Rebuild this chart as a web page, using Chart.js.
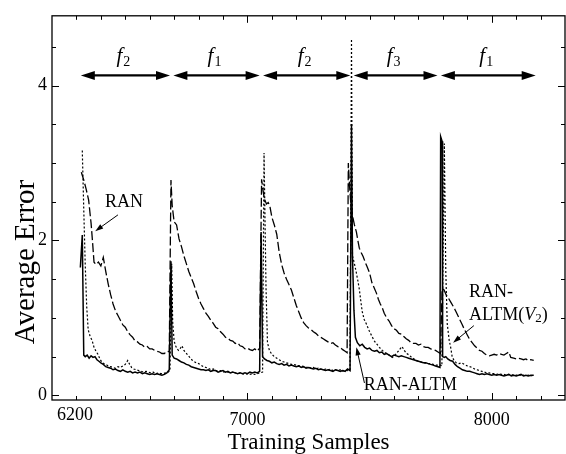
<!DOCTYPE html>
<html>
<head>
<meta charset="utf-8">
<script src="https://cdn.jsdelivr.net/npm/chart.js@4.4.1/dist/chart.umd.min.js"></script>
<style>
  html, body { margin: 0; padding: 0; background: #fff; }
</style>
</head>
<body>
<canvas id="chart" width="566" height="454"></canvas>
<script>
// ---------------- Datos ----------------
const xTickValues = [7000, 8000];
const yTickValues = [0, 2, 4];

// RAN (linea a trazos)
const ranX = [
  6320,6330,6340,6350,6360,6366,6372,6380,6390,6400,6410,6420,6430,6440,6450,6460,6470,6480,6490,6500,6510,6520,6530,6540,6550,6560,6570,6580,6590,6600,6610,6620,6630,6640,6650,6660,6670,6680,
  6687,6692,6700,6710,6720,6730,6740,6750,6760,6770,6780,6790,6800,6810,6820,6830,6840,6850,6860,6870,6880,6890,6900,6910,6920,6930,6940,6950,6960,6970,6980,6990,7000,7010,7020,7030,7040,7050,
  7058,7065,7070,7078,7085,7092,7100,7110,7120,7130,7140,7150,7160,7170,7180,7190,7200,7210,7220,7230,7240,7250,7260,7270,7280,7290,7300,7310,7320,7330,7340,7350,7360,7370,7380,7390,7400,7408,
  7413,7418,7424,7430,7438,7446,7452,7458,7466,7474,7482,7490,7500,7510,7520,7528,7536,7544,7552,7560,7570,7580,7590,7600,7610,7620,7630,7640,7650,7660,7670,7680,7690,7700,7710,7720,7730,7740,7750,7760,7770,7780,7790,
  7797,7805,7813,7822,7833,7844,7854,7866,7878,7890,7900,7910,7920,7930,7940,7950,7960,7970,7980,7990,8000,8010,8020,8030,8040,8050,8060,8070,8078,8090,8100,8110,8120,8130,8140,8150,8160,8172
];
const ranY = [
  2.88,2.78,2.66,2.52,2.22,1.98,1.72,1.69,1.72,1.67,1.78,1.60,1.44,1.30,1.18,1.09,1.03,0.97,0.91,0.88,0.82,0.78,0.75,0.70,0.69,0.66,0.65,0.62,0.63,0.60,0.60,0.58,0.57,0.56,0.54,0.54,0.57,0.56,
  2.78,2.45,2.24,2.20,2.02,1.92,1.80,1.70,1.60,1.52,1.44,1.34,1.25,1.18,1.12,1.06,1.02,0.97,0.93,0.88,0.86,0.82,0.79,0.75,0.74,0.71,0.70,0.67,0.68,0.64,0.63,0.60,0.61,0.59,0.58,0.60,0.57,0.61,
  2.79,2.62,2.53,2.47,2.49,2.44,2.30,2.20,2.08,1.85,1.69,1.58,1.50,1.43,1.36,1.26,1.16,1.08,1.00,0.94,0.90,0.87,0.85,0.82,0.80,0.77,0.75,0.73,0.71,0.69,0.67,0.68,0.65,0.63,0.62,0.59,0.57,0.55,
  3.00,2.70,2.45,2.32,2.20,2.11,2.00,1.90,1.84,1.79,1.72,1.66,1.58,1.45,1.38,1.32,1.24,1.18,1.13,1.06,1.00,0.96,0.90,0.86,0.84,0.80,0.79,0.76,0.73,0.71,0.68,0.67,0.67,0.65,0.66,0.63,0.62,0.62,0.60,0.59,0.58,0.56,0.54,
  1.38,1.36,1.30,1.26,1.20,1.14,1.08,1.00,0.92,0.84,0.78,0.72,0.68,0.64,0.61,0.58,0.57,0.54,0.52,0.51,0.52,0.53,0.52,0.54,0.53,0.52,0.54,0.56,0.49,0.48,0.47,0.48,0.47,0.46,0.47,0.45,0.46,0.45
];

// RAN-ALTM (linea continua)
const altmX = [
  6316,6324,6330,6336,6344,6352,6360,6368,6376,6384,6392,6400,6410,6420,6430,6440,6450,6460,6470,6480,6490,6500,6510,6520,6530,6540,6550,6560,6570,6580,6590,6600,6610,6620,6630,6640,6650,6660,6670,6680,
  6687,6692,6700,6710,6720,6730,6740,6750,6760,6770,6780,6790,6800,6810,6820,6830,6840,6850,6860,6870,6880,6890,6900,6910,6920,6930,6940,6950,6960,6970,6980,6990,7000,7010,7020,7030,7040,7050,
  7056,7062,7070,7080,7090,7100,7110,7120,7130,7140,7150,7160,7170,7180,7190,7200,7210,7220,7230,7240,7250,7260,7270,7280,7290,7300,7310,7320,7330,7340,7350,7360,7370,7380,7390,7400,7410,7420,
  7426,7430,7436,7442,7450,7460,7470,7480,7490,7500,7510,7520,7530,7540,7550,7560,7570,7580,7590,7600,7610,7620,7630,7640,7650,7660,7670,7680,7690,7700,7710,7720,7730,7740,7750,7760,7770,7780,7788,
  7791,7797,7799,7806,7812,7820,7830,7840,7850,7860,7870,7880,7890,7900,7910,7920,7930,7940,7950,7960,7970,7980,7990,8000,8010,8020,8030,8040,8050,8060,8070,8080,8090,8100,8110,8120,8130,8140,8150,8160,8172
];
const altmY = [
  1.65,2.07,0.52,0.50,0.52,0.48,0.51,0.49,0.50,0.46,0.44,0.42,0.40,0.37,0.36,0.35,0.33,0.34,0.32,0.31,0.33,0.31,0.30,0.31,0.29,0.30,0.29,0.30,0.28,0.29,0.28,0.27,0.28,0.27,0.28,0.27,0.26,0.27,0.29,0.33,
  1.73,0.52,0.48,0.47,0.45,0.43,0.42,0.40,0.39,0.37,0.36,0.35,0.34,0.33,0.33,0.32,0.33,0.31,0.32,0.32,0.30,0.31,0.32,0.30,0.31,0.29,0.30,0.29,0.28,0.29,0.28,0.29,0.28,0.30,0.29,0.30,0.29,0.31,
  2.11,0.50,0.47,0.45,0.44,0.42,0.43,0.41,0.40,0.41,0.39,0.40,0.38,0.39,0.38,0.37,0.38,0.36,0.37,0.35,0.36,0.35,0.34,0.35,0.33,0.34,0.33,0.32,0.33,0.32,0.31,0.33,0.32,0.31,0.32,0.31,0.34,0.32,
  3.50,1.80,1.10,0.75,0.68,0.64,0.66,0.62,0.60,0.61,0.58,0.57,0.58,0.55,0.56,0.53,0.54,0.52,0.50,0.52,0.51,0.50,0.51,0.50,0.49,0.48,0.47,0.46,0.45,0.44,0.43,0.42,0.42,0.41,0.40,0.39,0.38,0.37,0.36,
  3.34,3.28,0.50,0.49,0.50,0.47,0.45,0.44,0.40,0.37,0.35,0.33,0.32,0.31,0.31,0.30,0.29,0.28,0.27,0.28,0.27,0.28,0.27,0.26,0.27,0.26,0.27,0.26,0.25,0.26,0.27,0.25,0.26,0.25,0.26,0.27,0.25,0.26,0.25,0.26,0.26
];

// RAN-ALTM(V2) (linea punteada)
const v2X = [
  6324,6330,6336,6342,6348,6356,6364,6372,6380,6388,6396,6404,6412,6420,6430,6440,6450,6460,6470,6480,6490,6500,6510,6518,6526,6535,6545,6555,6565,6575,6585,6595,6605,6615,6625,6635,6645,6655,6665,6675,6683,
  6690,6694,6700,6706,6712,6718,6724,6732,6740,6748,6756,6764,6772,6780,6790,6800,6810,6820,6830,6840,6850,6860,6870,6880,6890,6900,6910,6920,6930,6940,6950,6960,6970,6980,6990,7000,7010,7020,7030,7040,7050,
  7062,7068,7076,7082,7090,7100,7110,7120,7130,7140,7150,7160,7170,7180,7190,7200,7210,7220,7230,7240,7250,7260,7270,7280,7290,7300,7310,7320,7330,7340,7350,7360,7370,7380,7390,7400,7410,7420,
  7426,7430,7438,7446,7452,7458,7464,7470,7478,7487,7499,7510,7520,7530,7540,7552,7565,7580,7593,7605,7615,7625,7633,7642,7652,7662,7672,7682,7690,7700,7712,7724,7736,7748,7760,7772,7784,7790,
  7796,7806,7812,7818,7826,7832,7838,7846,7855,7866,7876,7888,7900,7910,7920,7930,7940,7950,7960,7970,7980,7990,8000,8010,8020,8030,8040,8050,8060,8070,8080,8090,8100,8110,8120,8130,8140,8150,8160,8172
];
const v2Y = [
  3.16,2.40,1.69,1.15,0.85,0.76,0.71,0.62,0.57,0.53,0.47,0.43,0.41,0.40,0.38,0.37,0.36,0.35,0.37,0.36,0.38,0.40,0.45,0.40,0.36,0.34,0.33,0.32,0.31,0.30,0.31,0.30,0.29,0.30,0.28,0.29,0.28,0.28,0.29,0.30,0.32,
  1.70,0.95,0.70,0.64,0.60,0.58,0.60,0.64,0.58,0.55,0.52,0.49,0.46,0.44,0.42,0.41,0.39,0.37,0.36,0.35,0.33,0.34,0.32,0.31,0.32,0.30,0.31,0.30,0.29,0.30,0.29,0.28,0.29,0.28,0.27,0.28,0.27,0.28,0.27,0.28,0.29,
  0.30,3.13,1.40,0.68,0.58,0.53,0.50,0.48,0.46,0.44,0.43,0.42,0.41,0.40,0.40,0.39,0.38,0.38,0.37,0.36,0.37,0.35,0.36,0.34,0.35,0.34,0.33,0.34,0.33,0.34,0.32,0.33,0.32,0.33,0.31,0.33,0.32,0.33,
  4.60,1.80,1.70,1.58,1.48,1.37,1.22,1.08,0.98,0.92,0.83,0.76,0.70,0.66,0.62,0.58,0.55,0.52,0.49,0.52,0.56,0.60,0.63,0.58,0.54,0.52,0.49,0.47,0.45,0.44,0.43,0.42,0.41,0.41,0.40,0.39,0.39,0.39,
  0.38,3.25,1.60,0.92,0.71,0.62,0.50,0.45,0.42,0.41,0.42,0.40,0.38,0.37,0.36,0.34,0.33,0.32,0.31,0.30,0.29,0.29,0.28,0.28,0.27,0.28,0.27,0.27,0.26,0.27,0.26,0.27,0.26,0.27,0.26,0.26,0.25,0.26,0.25,0.26
];

// fases de la funcion objetivo (flechas de arriba)
const phaseEdges = [6318, 6690, 7057, 7428, 7785, 8180];
const phaseLabels = ['2', '1', '2', '3', '1'];
const phaseLevel = 4.13;
const phaseTextLevel = 4.30;

// textos y flechas de anotacion (coordenadas de datos)
const notes = [
  { text: 'RAN', x: 6495, y: 2.49, align: 'center' },
  { text: 'RAN-ALTM', x: 7667, y: 0.13, align: 'center' },
  { text: 'RAN-', x: 7907, y: 1.33, align: 'left' }
];
const pointers = [
  { from: [6470, 2.33], to: [6377, 2.12] },
  { from: [7479, 0.16], to: [7446, 0.62] },
  { from: [7927, 0.90], to: [7842, 0.68] }
];

const serif = '"Liberation Serif", "Times New Roman", serif';
const pts = (xs, ys) => xs.map((x, i) => ({ x: x, y: ys[i] }));

// ---------------- Plugins ----------------
function arrowHead(ctx, x, y, dir, len, half) {
  ctx.beginPath();
  ctx.moveTo(x, y);
  ctx.lineTo(x - dir * len, y - half);
  ctx.lineTo(x - dir * len, y + half);
  ctx.closePath();
  ctx.fill();
}

const decoraciones = {
  id: 'decoraciones',
  afterDatasetsDraw(chart) {
    const { ctx, scales: { x, y } } = chart;
    ctx.save();
    ctx.fillStyle = '#000';
    ctx.strokeStyle = '#000';

    // flechas de fases
    const ay = y.getPixelForValue(phaseLevel);
    const ty = y.getPixelForValue(phaseTextLevel);
    for (let i = 0; i < phaseLabels.length; i++) {
      let x1 = x.getPixelForValue(phaseEdges[i]);
      let x2 = x.getPixelForValue(phaseEdges[i + 1]);
      if (i > 0) x1 += 1.7;
      if (i < phaseLabels.length - 1) x2 -= 1.7;
      ctx.lineWidth = 2.2;
      ctx.beginPath();
      ctx.moveTo(x1 + 8, ay);
      ctx.lineTo(x2 - 8, ay);
      ctx.stroke();
      arrowHead(ctx, x1, ay, -1, 14, 4.5);
      arrowHead(ctx, x2, ay, 1, 14, 4.5);

      // etiqueta f_k
      ctx.font = 'italic 21px ' + serif;
      const wf = ctx.measureText('f').width;
      ctx.font = '14px ' + serif;
      const ws = ctx.measureText(phaseLabels[i]).width;
      const cx = (x1 + x2) / 2 - 2;
      const sx = cx - (wf + ws + 1) / 2;
      ctx.textAlign = 'left';
      ctx.textBaseline = 'alphabetic';
      ctx.font = 'italic 21px ' + serif;
      ctx.fillText('f', sx, ty);
      ctx.font = '14px ' + serif;
      ctx.fillText(phaseLabels[i], sx + wf + 1, ty + 4);
    }

    // textos
    ctx.font = '18px ' + serif;
    ctx.textBaseline = 'middle';
    notes.forEach(n => {
      ctx.textAlign = n.align;
      ctx.fillText(n.text, x.getPixelForValue(n.x), y.getPixelForValue(n.y));
    });
    // ALTM(V2)
    let px = x.getPixelForValue(7907);
    const py = y.getPixelForValue(1.03);
    ctx.textAlign = 'left';
    ctx.fillText('ALTM(', px, py);
    px += ctx.measureText('ALTM(').width;
    ctx.font = 'italic 18px ' + serif;
    ctx.fillText('V', px, py);
    px += ctx.measureText('V').width;
    ctx.font = '13px ' + serif;
    ctx.fillText('2', px, py + 3);
    px += ctx.measureText('2').width;
    ctx.font = '18px ' + serif;
    ctx.fillText(')', px, py);

    // flechas de anotacion
    ctx.lineWidth = 1;
    pointers.forEach(p => {
      const fx = x.getPixelForValue(p.from[0]), fy = y.getPixelForValue(p.from[1]);
      const tx = x.getPixelForValue(p.to[0]), ty2 = y.getPixelForValue(p.to[1]);
      const ang = Math.atan2(ty2 - fy, tx - fx);
      ctx.beginPath();
      ctx.moveTo(fx, fy);
      ctx.lineTo(tx - Math.cos(ang) * 5, ty2 - Math.sin(ang) * 5);
      ctx.stroke();
      ctx.save();
      ctx.translate(tx, ty2);
      ctx.rotate(ang);
      arrowHead(ctx, 0, 0, 1, 8, 2.6);
      ctx.restore();
    });
    ctx.restore();
  },
  afterDraw(chart) {
    const { ctx, chartArea: a, scales: { x, y } } = chart;
    ctx.save();
    ctx.strokeStyle = '#000';
    ctx.lineWidth = 1.3;
    ctx.strokeRect(a.left, a.top, a.right - a.left, a.bottom - a.top);

    ctx.lineWidth = 1;
    ctx.beginPath();
    for (let v = 6300; v <= 8200; v += 100) {
      const p = Math.round(x.getPixelForValue(v)) + 0.5;
      const len = xTickValues.includes(v) ? 7 : 4;
      ctx.moveTo(p, a.bottom); ctx.lineTo(p, a.bottom - len);
      ctx.moveTo(p, a.top); ctx.lineTo(p, a.top + len);
    }
    for (let k = 0; k <= 9; k++) {
      const v = k * 0.5;
      const p = Math.round(y.getPixelForValue(v)) + 0.5;
      const len = yTickValues.includes(v) ? 7 : 4;
      ctx.moveTo(a.left, p); ctx.lineTo(a.left + len, p);
      ctx.moveTo(a.right, p); ctx.lineTo(a.right - len, p);
    }
    ctx.stroke();

    ctx.fillStyle = '#000';
    // etiqueta del borde izquierdo (desplazada como en el original)
    ctx.font = '18px ' + serif;
    ctx.textAlign = 'center';
    ctx.textBaseline = 'middle';
    ctx.fillText('6200', a.left + 23, a.bottom + 15);

    // titulo del eje Y
    ctx.translate(26, 262);
    ctx.rotate(-Math.PI / 2);
    ctx.font = '29px ' + serif;
    ctx.fillText('Average Error', 0, 0);
    ctx.restore();
  }
};

// ---------------- Grafico ----------------
const ctx = document.getElementById('chart').getContext('2d');
new Chart(ctx, {
  type: 'line',
  data: {
    datasets: [
      { label: 'RAN', data: pts(ranX, ranY), borderColor: '#000', borderWidth: 1.3, borderDash: [9, 3] },
      { label: 'RAN-ALTM(V2)', data: pts(v2X, v2Y), borderColor: '#000', borderWidth: 1.2, borderDash: [2, 2] },
      { label: 'RAN-ALTM', data: pts(altmX, altmY), borderColor: '#000', borderWidth: 1.5 }
    ]
  },
  options: {
    responsive: false,
    animation: false,
    layout: { padding: { top: 12, right: 1, bottom: 0, left: 0 } },
    elements: { point: { radius: 0 }, line: { tension: 0, fill: false } },
    plugins: { legend: { display: false }, tooltip: { enabled: false } },
    scales: {
      x: {
        type: 'linear', min: 6200, max: 8300,
        afterBuildTicks: s => { s.ticks = xTickValues.map(v => ({ value: v })); },
        afterFit: s => { s.height = 54; },
        grid: { display: false, drawTicks: false },
        border: { display: false },
        ticks: { color: '#000', font: { family: serif, size: 18 }, padding: 9, maxRotation: 0, callback: v => String(v) },
        title: { display: true, text: 'Training Samples', color: '#000', font: { family: serif, size: 23, lineHeight: 1 }, padding: 0 }
      },
      y: {
        min: -0.06, max: 4.9,
        afterBuildTicks: s => { s.ticks = yTickValues.map(v => ({ value: v })); },
        afterFit: s => { s.width = 52; },
        grid: { display: false, drawTicks: false },
        border: { display: false },
        ticks: { color: '#000', font: { family: serif, size: 18 }, padding: 5, callback: v => String(v) }
      }
    }
  },
  plugins: [decoraciones]
});
</script>
</body>
</html>
